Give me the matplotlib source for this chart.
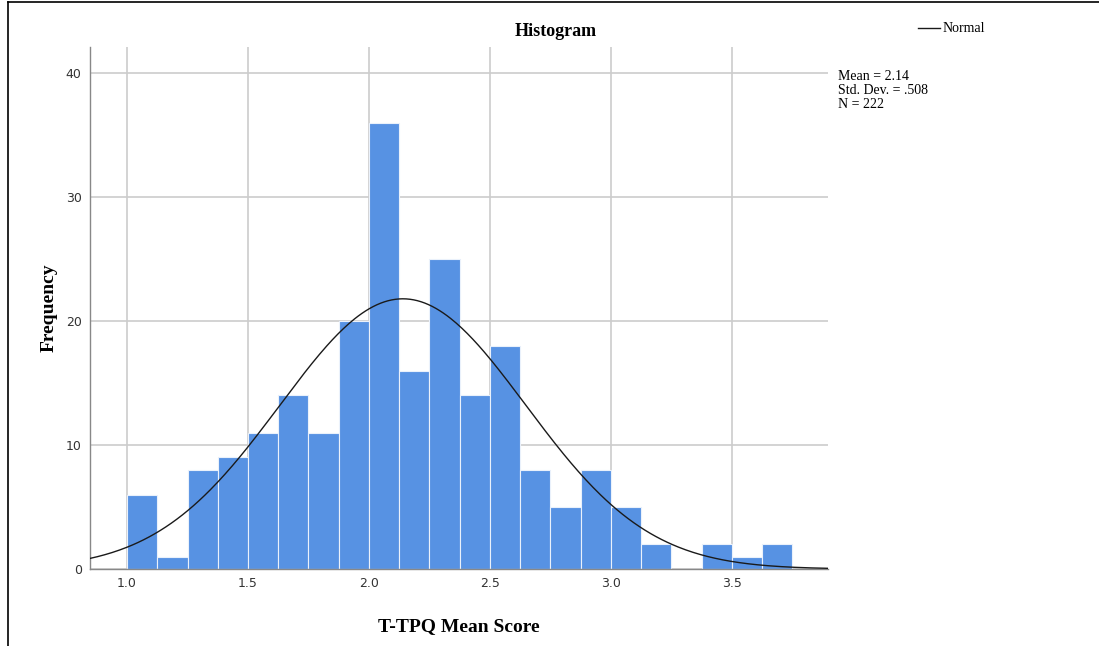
import numpy as np
import matplotlib
matplotlib.use("Agg")
import matplotlib.pyplot as plt
from matplotlib.lines import Line2D

# bin edges (width 0.125) and frequencies
bin_left = [1.0, 1.125, 1.25, 1.375, 1.5, 1.625, 1.75, 1.875, 2.0, 2.125, 2.25,
            2.375, 2.5, 2.625, 2.75, 2.875, 3.0, 3.125, 3.25, 3.375, 3.5, 3.625]
freq = [6, 1, 8, 9, 11, 14, 11, 20, 36, 16, 25, 14, 18, 8, 5, 8, 5, 2, 0, 2, 1, 2]
bin_width = 0.125

mean, sd, n = 2.14, 0.508, 222
x_ticks = [1.0, 1.5, 2.0, 2.5, 3.0, 3.5]
y_ticks = [0, 10, 20, 30, 40]

SERIF = "Liberation Serif"
BAR_COLOR = "#5792E3"

fig = plt.figure(figsize=(10.99, 6.46), dpi=100)
ax = fig.add_axes([0.0819, 0.1192, 0.6715, 0.8080])

ax.bar(bin_left, freq, width=bin_width, align="edge", color=BAR_COLOR,
       edgecolor="#EAF1FB", linewidth=0.8, zorder=2)

# fitted normal curve, scaled to counts
xs = np.linspace(0.847, 3.897, 400)
ys = n * bin_width * np.exp(-0.5 * ((xs - mean) / sd) ** 2) / (sd * np.sqrt(2 * np.pi))
ax.plot(xs, ys, color="#1a1a1a", linewidth=1.0, zorder=3)

ax.set_xlim(0.847, 3.897)
ax.set_ylim(0, 42.1)
ax.set_xticks(x_ticks)
ax.set_xticklabels([f"{v:.1f}" for v in x_ticks])
ax.set_yticks(y_ticks)
ax.tick_params(length=0, labelsize=9, colors="#333333", pad=6)
ax.grid(True, color="#CCCCCC", linewidth=1.2, zorder=0)
ax.set_axisbelow(True)
for s in ["top", "right"]:
    ax.spines[s].set_visible(False)
for s in ["left", "bottom"]:
    ax.spines[s].set_color("#888888")
    ax.spines[s].set_linewidth(1.0)

ax.set_xlabel("T-TPQ Mean Score", family=SERIF, fontsize=14, fontweight="bold", labelpad=20)
ax.set_ylabel("Frequency", family=SERIF, fontsize=14, fontweight="bold", labelpad=6)

fig.text(0.506, 0.951, "Histogram", family=SERIF, fontsize=13, fontweight="bold",
         ha="center", va="center")

# legend
fig.add_artist(Line2D([918 / 1099, 940 / 1099], [1 - 28 / 646, 1 - 28 / 646],
                      color="#1a1a1a", linewidth=1.0))
fig.text(943 / 1099, 1 - 28 / 646, "Normal", family=SERIF, fontsize=10,
         ha="left", va="center")

fig.text(838 / 1099, 1 - 70 / 646,
         f"Mean = {mean:.2f}\nStd. Dev. = .508\nN = {n}",
         family=SERIF, fontsize=10, ha="left", va="top", linespacing=1.1)

# outer frame (partial box like the export)
fig.add_artist(Line2D([8 / 1099, 8 / 1099], [0, 1 - 2 / 646], color="black", linewidth=1.2))
fig.add_artist(Line2D([8 / 1099, 1], [1 - 2 / 646, 1 - 2 / 646], color="black", linewidth=1.2))

fig.savefig("out.png", dpi=100)
